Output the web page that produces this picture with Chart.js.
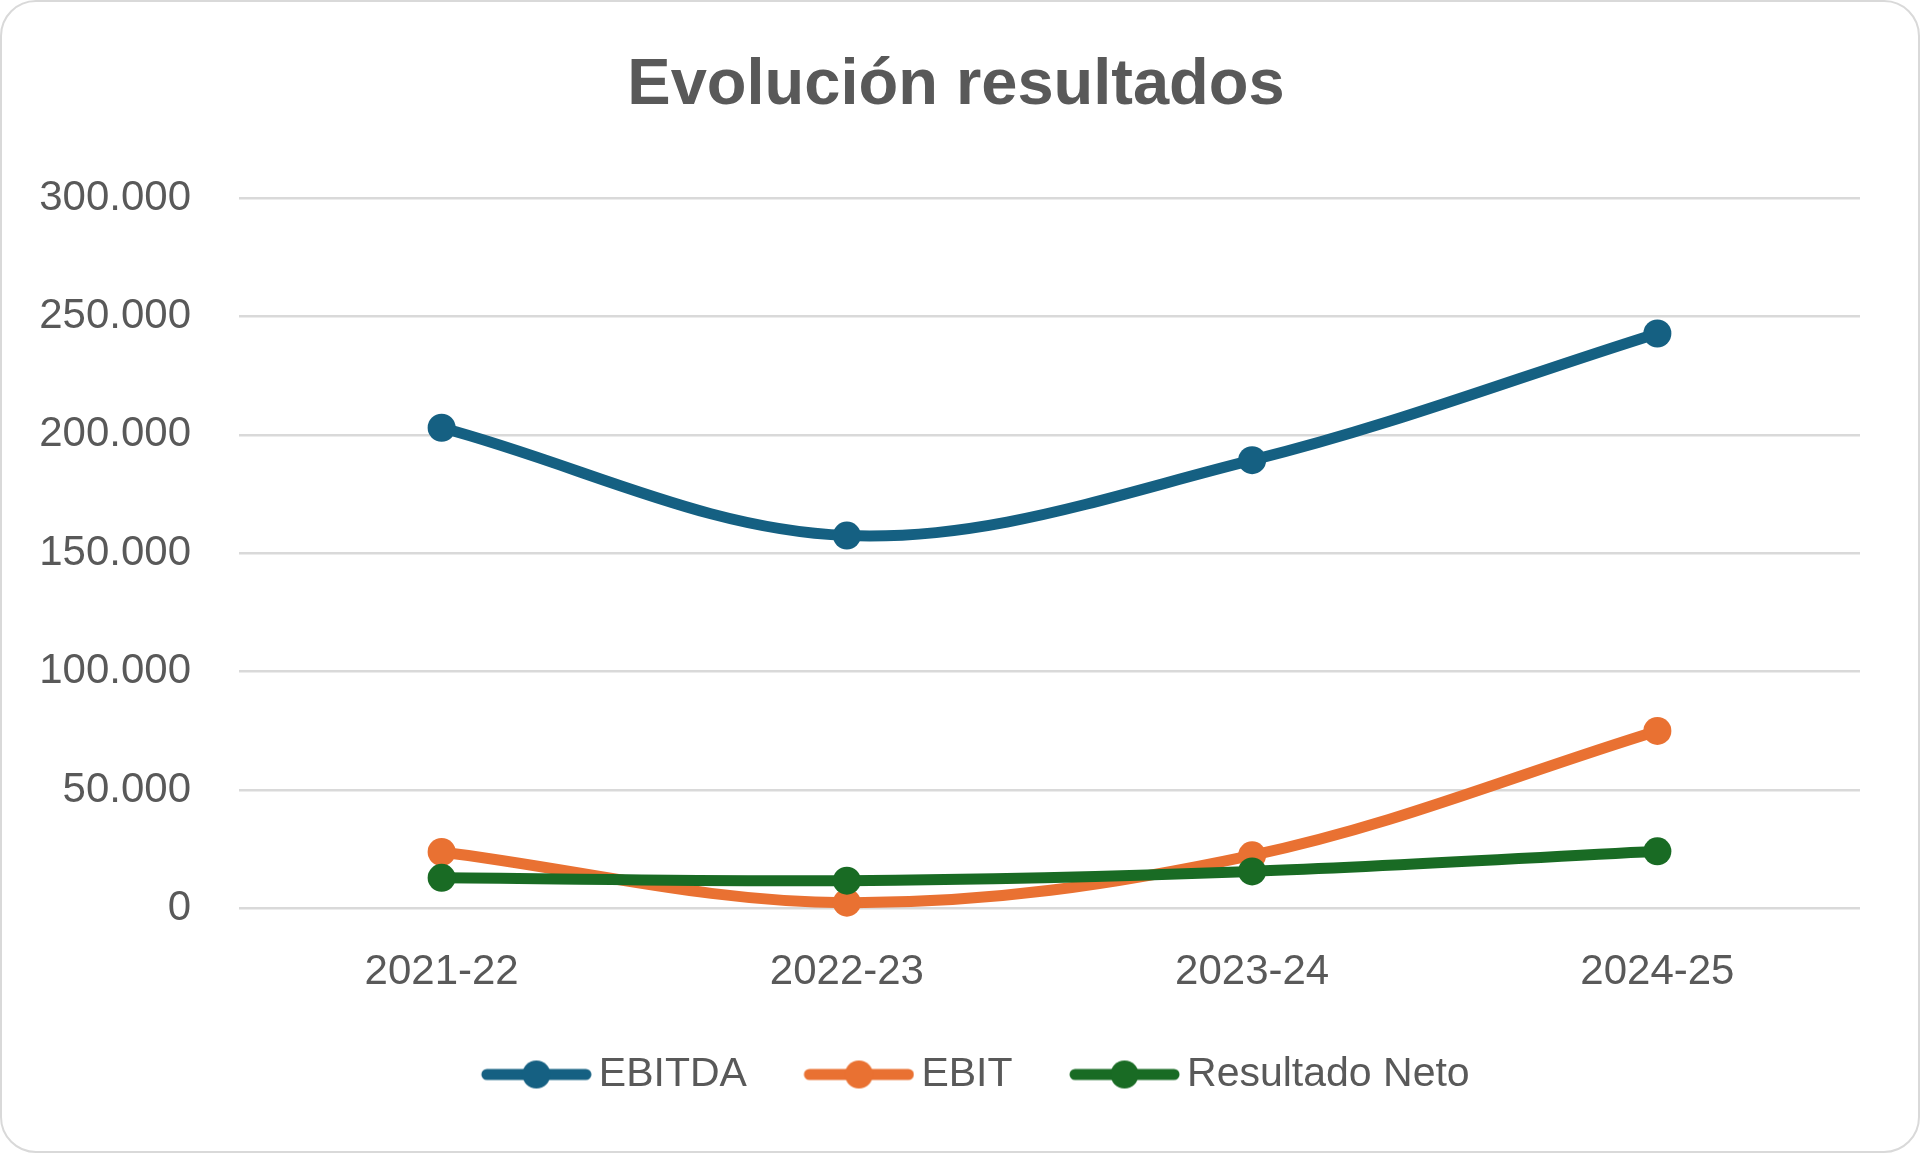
<!DOCTYPE html>
<html>
<head>
<meta charset="utf-8">
<title>Evolución resultados</title>
<script src="https://cdn.jsdelivr.net/npm/chart.js@4.4.1/dist/chart.umd.min.js"></script>
<style>
	html, body { margin: 0; padding: 0; background: #ffffff; }
	#card {
		position: relative;
		width: 1920px;
		height: 1153px;
		box-sizing: border-box;
		border: 2px solid #d9d9d9;
		border-radius: 36px;
		background: #ffffff;
		overflow: hidden;
	}
	#card canvas { position: absolute; left: 0; top: 0; }
</style>
</head>
<body>
<div id="card"><canvas id="Chart1"></canvas></div>
<script>
// data
const periods = ['2021-22', '2022-23', '2023-24', '2024-25'];
const ebitda = [203000, 157500, 189300, 242800];
const ebit = [23900, 2500, 22500, 75000];
const resultadoNeto = [13000, 11800, 15700, 24200];
const seriesNames = ['EBITDA', 'EBIT', 'Resultado Neto'];
const seriesColors = ['#156082', '#E97132', '#196B24'];

const textColor = '#595959';
const gridColor = '#d9d9d9';

// thousands with a dot, like the Spanish Excel labels
const formatThousands = v => String(v).replace(/\B(?=(\d{3})+(?!\d))/g, '.');

// legend sample: a short line with the marker in the middle.
// the canvas is wider than the sample, the empty left part keeps the
// sample close to its text while leaving room between legend items
const iconW = 163;
const sampleW = 111;
const makeLegendIcon = color => {
	const c = document.createElement('canvas');
	c.width = iconW;
	c.height = 30;
	const g = c.getContext('2d');
	const x0 = iconW - sampleW;
	g.strokeStyle = color;
	g.lineWidth = 11;
	g.lineCap = 'round';
	g.beginPath();
	g.moveTo(x0 + 6, 15);
	g.lineTo(iconW - 6, 15);
	g.stroke();
	g.fillStyle = color;
	g.beginPath();
	g.arc(x0 + sampleW / 2, 15, 14, 0, Math.PI * 2);
	g.fill();
	return c;
};
const legendIcons = seriesColors.map(makeLegendIcon);

const lineSet = (label, data, color, order) => ({
	label: label,
	data: data,
	borderColor: color,
	backgroundColor: color,
	borderWidth: 11,
	pointRadius: 14,
	pointHoverRadius: 14,
	pointBorderWidth: 0,
	pointBackgroundColor: color,
	tension: 0.35,
	fill: false,
	clip: false,
	order: order
});

const ctx = document.getElementById('Chart1');
const myChart = new Chart(ctx, {
	type: 'line',
	data: {
		labels: periods,
		datasets: [
			lineSet(seriesNames[0], ebitda, seriesColors[0], 3),
			lineSet(seriesNames[1], ebit, seriesColors[1], 2),
			lineSet(seriesNames[2], resultadoNeto, seriesColors[2], 1)
		]
	},
	options: {
		responsive: true,
		maintainAspectRatio: false,
		animation: false,
		devicePixelRatio: 1,
		layout: {
			padding: { top: 45, left: 2, right: 10, bottom: 46 }
		},
		scales: {
			x: {
				offset: true,
				grid: { display: false, drawTicks: false },
				border: { display: false },
				ticks: {
					color: textColor,
					padding: 38.5,
					font: { family: '"Liberation Sans", Arial, sans-serif', size: 42 }
				}
			},
			y: {
				min: 0,
				max: 300000,
				grid: { color: gridColor, lineWidth: 2.5, drawTicks: false },
				border: { display: false },
				ticks: {
					stepSize: 50000,
					color: textColor,
					padding: 48,
					font: { family: '"Liberation Sans", Arial, sans-serif', size: 42 },
					callback: value => formatThousands(value)
				},
				afterFit: scale => { scale.width = 235; }
			},
			yRight: {
				position: 'right',
				display: true,
				grid: { display: false, drawTicks: false },
				border: { display: false },
				ticks: { display: false },
				afterFit: scale => { scale.width = 48; }
			}
		},
		plugins: {
			title: {
				display: true,
				text: 'Evolución resultados',
				color: textColor,
				padding: { top: 0, bottom: 73 },
				font: { family: '"Liberation Sans", Arial, sans-serif', size: 65, weight: 'bold' }
			},
			legend: {
				position: 'bottom',
				labels: {
					usePointStyle: true,
					pointStyleWidth: 136,
					boxHeight: 30,
					padding: 18,
					color: textColor,
					font: { family: '"Liberation Sans", Arial, sans-serif', size: 41 },
					generateLabels: chart => {
						const items = Chart.defaults.plugins.legend.labels.generateLabels(chart);
						items.sort((a, b) => a.datasetIndex - b.datasetIndex);
						items.forEach(item => {
							item.pointStyle = legendIcons[item.datasetIndex];
							item.fontColor = textColor;
						});
						return items;
					}
				}
			},
			tooltip: { enabled: false }
		}
	}
});
</script>
</body>
</html>
